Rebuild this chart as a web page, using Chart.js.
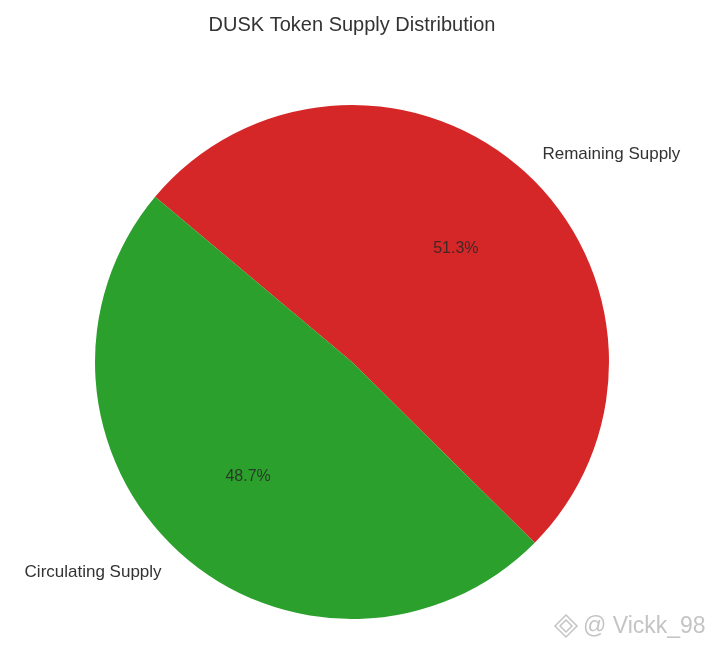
<!DOCTYPE html>
<html>
<head>
<meta charset="utf-8">
<script src="https://cdn.jsdelivr.net/npm/chart.js@4"></script>
<style>
  body { margin: 0; background: #fff; }
  canvas { display: block; }
</style>
</head>
<body>
<canvas id="myChart" width="713" height="650"></canvas>
<script>
// data (clockwise order starting at the upper-left edge)
const sliceLabels = ['Remaining Supply', 'Circulating Supply'];
const sliceValues = [51.3, 48.7];
const sliceColors = ['#d62728', '#2ca02c'];
const chartTitle = 'DUSK Token Supply Distribution';
const watermark = '@ Vickk_98';

const FONT = '"Liberation Sans", Arial, sans-serif';

// texts drawn like matplotlib: labels at 1.1 r, percentages at 0.6 r
const pieText = {
    id: 'pieText',
    afterDraw(chart) {
        const ctx = chart.ctx;
        const arcs = chart.getDatasetMeta(0).data;
        const total = sliceValues.reduce((a, b) => a + b, 0);
        ctx.save();
        ctx.textBaseline = 'middle';

        // title
        ctx.fillStyle = '#333333';
        ctx.font = '20px ' + FONT;
        ctx.textAlign = 'center';
        ctx.fillText(chartTitle, 352, 25);

        arcs.forEach((arc, i) => {
            const mid = (arc.startAngle + arc.endAngle) / 2;
            const cx = Math.cos(mid), cy = Math.sin(mid);
            const r = arc.outerRadius;

            ctx.font = '17px ' + FONT;
            ctx.fillStyle = '#333333';
            ctx.textAlign = cx >= 0 ? 'left' : 'right';
            ctx.fillText(sliceLabels[i], arc.x + cx * r * 1.1, arc.y + cy * r * 1.1 + 1);

            ctx.font = '16px ' + FONT;
            ctx.textAlign = 'center';
            ctx.fillStyle = 'rgba(40,40,40,0.85)';
            const pct = (sliceValues[i] / total * 100).toFixed(1) + '%';
            ctx.fillText(pct, arc.x + cx * r * 0.6, arc.y + cy * r * 0.6 + 1);
        });

        // watermark
        ctx.font = '23px ' + FONT;
        ctx.textAlign = 'left';
        ctx.fillStyle = 'rgba(190,190,190,0.9)';
        ctx.fillText(watermark, 583, 627);
        // small diamond logo
        ctx.strokeStyle = 'rgba(190,190,190,0.9)';
        ctx.lineWidth = 1.5;
        ctx.beginPath();
        ctx.moveTo(566, 615); ctx.lineTo(577, 626); ctx.lineTo(566, 637); ctx.lineTo(555, 626);
        ctx.closePath();
        ctx.stroke();
        ctx.beginPath();
        ctx.moveTo(566, 620); ctx.lineTo(572, 626); ctx.lineTo(566, 632); ctx.lineTo(560, 626);
        ctx.closePath();
        ctx.stroke();
        ctx.restore();
    }
};

const ctx = document.getElementById('myChart').getContext('2d');
const myChart = new Chart(ctx, {
    type: 'pie',
    data: {
        labels: sliceLabels,
        datasets: [{
            data: sliceValues,
            backgroundColor: sliceColors,
            borderWidth: 0,
            hoverOffset: 0
        }]
    },
    options: {
        responsive: false,
        animation: false,
        rotation: -50,
        layout: {
            padding: { left: 95, right: 104, top: 105, bottom: 31 }
        },
        plugins: {
            legend: { display: false },
            title: { display: false },
            tooltip: { enabled: false }
        }
    },
    plugins: [pieText]
});
</script>
</body>
</html>
